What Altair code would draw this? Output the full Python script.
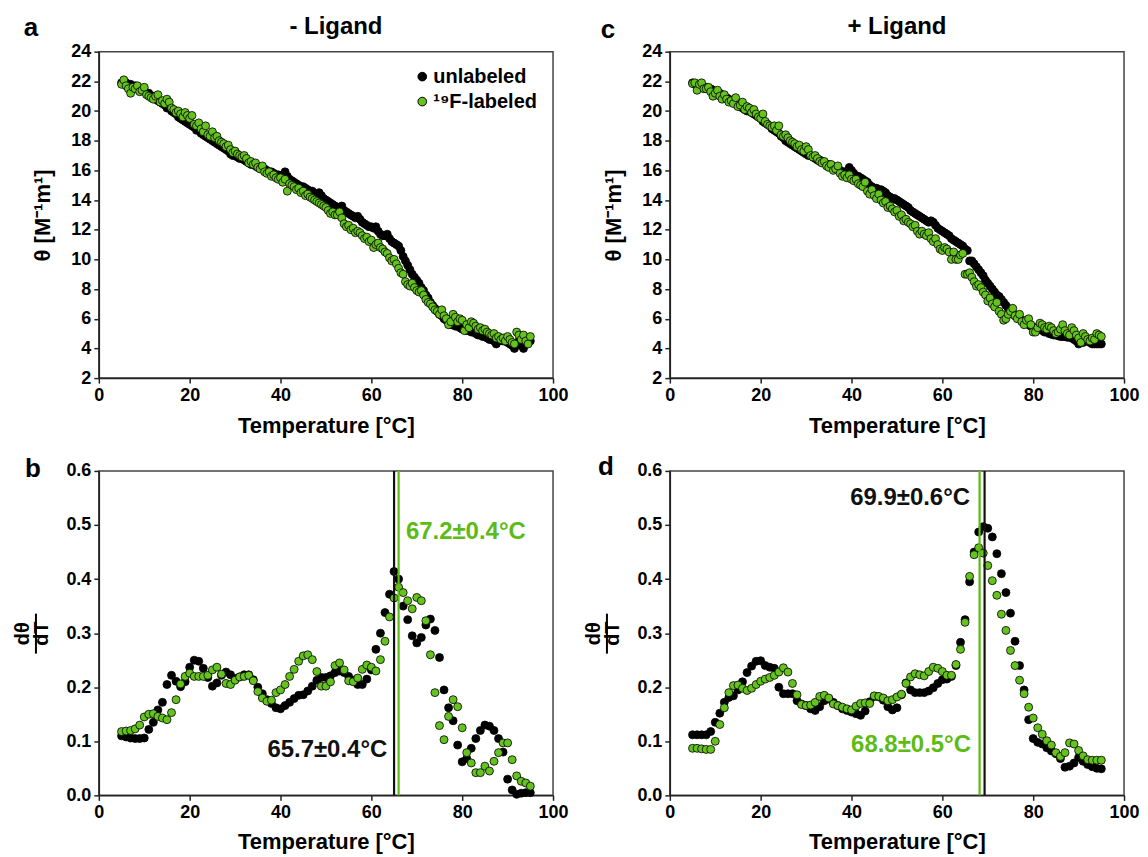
import altair as alt
import pandas as pd

FONT = "Liberation Sans"
BLACK = "#000000"
GREEN = "#66C21E"
LINE_GREEN = "#5DBB15"
SERIES = ["unlabeled", "¹⁹F-labeled"]

X_TICKS = [0, 20, 40, 60, 80, 100]
Y_TICKS_TOP = [2, 4, 6, 8, 10, 12, 14, 16, 18, 20, 22, 24]
Y_TICKS_BOT = [0.0, 0.1, 0.2, 0.3, 0.4, 0.5, 0.6]

# ---- temperatures ----
T_TOP = [
    5.0, 5.5, 6.0, 6.5, 7.0, 7.5, 8.0, 8.5, 9.0, 9.5,
    10.0, 10.5, 11.0, 11.5, 12.0, 12.5, 13.0, 13.5, 14.0, 14.5,
    15.0, 15.5, 16.0, 16.5, 17.0, 17.5, 18.0, 18.5, 19.0, 19.5,
    20.0, 20.5, 21.0, 21.5, 22.0, 22.5, 23.0, 23.5, 24.0, 24.5,
    25.0, 25.5, 26.0, 26.5, 27.0, 27.5, 28.0, 28.5, 29.0, 29.5,
    30.0, 30.5, 31.0, 31.5, 32.0, 32.5, 33.0, 33.5, 34.0, 34.5,
    35.0, 35.5, 36.0, 36.5, 37.0, 37.5, 38.0, 38.5, 39.0, 39.5,
    40.0, 40.5, 41.0, 41.5, 42.0, 42.5, 43.0, 43.5, 44.0, 44.5,
    45.0, 45.5, 46.0, 46.5, 47.0, 47.5, 48.0, 48.5, 49.0, 49.5,
    50.0, 50.5, 51.0, 51.5, 52.0, 52.5, 53.0, 53.5, 54.0, 54.5,
    55.0, 55.5, 56.0, 56.5, 57.0, 57.5, 58.0, 58.5, 59.0, 59.5,
    60.0, 60.5, 61.0, 61.5, 62.0, 62.5, 63.0, 63.5, 64.0, 64.5,
    65.0, 65.5, 66.0, 66.5, 67.0, 67.5, 68.0, 68.5, 69.0, 69.5,
    70.0, 70.5, 71.0, 71.5, 72.0, 72.5, 73.0, 73.5, 74.0, 74.5,
    75.0, 75.5, 76.0, 76.5, 77.0, 77.5, 78.0, 78.5, 79.0, 79.5,
    80.0, 80.5, 81.0, 81.5, 82.0, 82.5, 83.0, 83.5, 84.0, 84.5,
    85.0, 85.5, 86.0, 86.5, 87.0, 87.5, 88.0, 88.5, 89.0, 89.5,
    90.0, 90.5, 91.0, 91.5, 92.0, 92.5, 93.0, 93.5, 94.0, 94.5,
    95.0,
]

T_BOT = [
    5, 6, 7, 8, 9, 10, 11, 12, 13, 14,
    15, 16, 17, 18, 19, 20, 21, 22, 23, 24,
    25, 26, 27, 28, 29, 30, 31, 32, 33, 34,
    35, 36, 37, 38, 39, 40, 41, 42, 43, 44,
    45, 46, 47, 48, 49, 50, 51, 52, 53, 54,
    55, 56, 57, 58, 59, 60, 61, 62, 63, 64,
    65, 66, 67, 68, 69, 70, 71, 72, 73, 74,
    75, 76, 77, 78, 79, 80, 81, 82, 83, 84,
    85, 86, 87, 88, 89, 90, 91, 92, 93, 94,
    95,
]

# ---- panel a: - Ligand, CD signal ----
A_UNLAB = [
    21.9, 21.8, 21.9, 21.7, 21.8, 21.6, 21.7, 21.5, 21.5, 21.4,
    21.4, 21.2, 21.2, 21.0, 21.0, 20.8, 20.7, 20.6, 20.5, 20.4,
    20.2, 20.2, 20.0, 19.9, 19.8, 19.6, 19.5, 19.4, 19.3, 19.2,
    19.1, 19.0, 18.9, 18.7, 18.7, 18.5, 18.4, 18.3, 18.2, 18.1,
    18.0, 17.9, 17.8, 17.7, 17.6, 17.5, 17.4, 17.3, 17.1, 17.0,
    17.0, 16.9, 16.8, 16.8, 16.7, 16.6, 16.5, 16.4, 16.4, 16.3,
    16.2, 16.2, 16.1, 16.1, 16.0, 15.9, 15.9, 15.8, 15.7, 15.7,
    15.6, 15.7, 15.9, 15.6, 15.4, 15.3, 15.2, 15.1, 15.0, 14.9,
    14.9, 14.8, 14.7, 14.6, 14.6, 14.4, 14.4, 14.5, 14.3, 14.1,
    14.0, 13.9, 13.8, 13.7, 13.6, 13.5, 13.5, 13.6, 13.3, 13.2,
    13.1, 13.0, 12.9, 12.8, 12.9, 12.7, 12.5, 12.4, 12.3, 12.2,
    12.2, 12.1, 12.2, 11.9, 11.7, 11.6, 11.6, 11.7, 11.4, 11.2,
    11.1, 11.0, 10.9, 10.6, 10.2, 9.9, 9.6, 9.3, 9.0, 8.8,
    8.6, 8.4, 8.1, 7.9, 7.6, 7.4, 7.1, 6.9, 6.7, 6.5,
    6.3, 6.2, 6.0, 5.9, 5.8, 5.6, 5.6, 5.5, 5.5, 5.4,
    5.3, 5.3, 5.2, 5.2, 5.1, 5.1, 5.0, 4.9, 4.9, 4.8,
    4.8, 4.7, 4.6, 4.6, 4.5, 4.3, 4.5, 4.6, 4.5, 4.5,
    4.4, 4.3, 4.2, 4.0, 4.3, 4.5, 4.2, 4.0, 4.3, 4.4,
    4.5,
]
A_LAB = [
    21.8, 22.1, 21.7, 21.5, 21.2, 21.6, 21.5, 21.7, 21.3, 21.4,
    21.6, 21.1, 21.0, 20.9, 20.8, 21.0, 21.1, 20.6, 20.7, 20.5,
    20.8, 20.6, 20.2, 20.1, 19.9, 20.0, 19.8, 19.6, 19.9, 19.7,
    19.5, 19.7, 19.1, 19.0, 19.2, 18.8, 18.6, 19.0, 18.4, 18.3,
    18.6, 18.2, 18.3, 18.0, 17.9, 17.8, 17.6, 17.7, 17.4, 17.2,
    17.3, 17.1, 17.0, 16.9, 17.0, 16.8, 16.5, 16.6, 16.4, 16.5,
    16.2, 16.1, 16.3, 15.9, 15.8, 15.9, 15.6, 15.7, 15.5, 15.4,
    15.5, 15.2, 15.4, 14.6, 15.1, 15.0, 14.9, 14.7, 14.8, 14.5,
    14.6, 14.3, 14.4, 14.2, 14.1, 14.0, 13.9, 13.8, 13.7, 13.6,
    13.5, 13.3, 13.1, 13.2, 13.0, 13.0, 13.2, 12.8, 12.4, 12.2,
    12.3, 12.0, 12.1, 11.8, 11.9, 11.8, 11.6, 11.4, 11.5, 11.2,
    11.3, 10.8, 11.0, 11.1, 10.8, 10.7, 10.5, 10.4, 10.1, 9.9,
    10.0, 9.7, 9.4, 9.1, 9.0, 8.5, 8.3, 8.2, 8.4, 8.1,
    7.9, 7.8, 7.9, 7.6, 7.3, 7.1, 7.0, 6.8, 6.6, 6.5,
    6.3, 6.6, 6.2, 6.0, 5.6, 5.8, 6.3, 6.1, 5.8, 6.0,
    5.9, 5.2, 5.6, 5.4, 5.8, 5.7, 5.5, 5.3, 5.4, 5.2,
    5.3, 5.1, 5.0, 4.9, 5.0, 4.7, 4.8, 4.6, 4.7, 4.5,
    4.8, 4.6, 4.4, 4.3, 5.1, 4.9, 4.6, 4.9, 4.5, 4.3,
    4.8,
]

# ---- panel c: + Ligand, CD signal ----
C_UNLAB = [
    21.9, 21.8, 21.8, 21.7, 21.7, 21.6, 21.6, 21.5, 21.5, 21.4,
    21.3, 21.2, 21.2, 21.1, 21.0, 20.9, 20.8, 20.7, 20.6, 20.5,
    20.4, 20.3, 20.2, 20.1, 20.0, 20.0, 19.9, 19.8, 19.7, 19.6,
    19.5, 19.3, 19.2, 19.1, 19.0, 18.8, 18.7, 18.6, 18.5, 18.3,
    18.2, 18.0, 17.9, 17.8, 17.7, 17.6, 17.5, 17.4, 17.3, 17.2,
    17.1, 17.0, 17.0, 16.9, 16.8, 16.7, 16.7, 16.6, 16.5, 16.4,
    16.4, 16.3, 16.2, 16.2, 16.1, 16.0, 15.9, 15.9, 15.9, 16.2,
    16.0, 15.8, 15.6, 15.6, 15.5, 15.4, 15.3, 15.2, 15.0, 14.9,
    14.8, 14.8, 14.7, 14.7, 14.6, 14.5, 14.3, 14.2, 14.1, 14.1,
    14.0, 13.9, 13.8, 13.7, 13.6, 13.5, 13.3, 13.2, 13.1, 13.0,
    12.9, 12.8, 12.7, 12.6, 12.5, 12.6, 12.5, 12.3, 12.1, 12.0,
    11.9, 11.8, 11.7, 11.6, 11.4, 11.3, 11.2, 11.1, 11.0, 10.9,
    10.7, 10.6, 9.9, 9.9, 9.7, 9.5, 9.3, 9.1, 8.9, 8.6,
    8.4, 8.2, 8.0, 7.8, 7.6, 7.5, 7.3, 7.1, 6.9, 6.7,
    6.5, 6.4, 6.2, 6.1, 6.0, 5.9, 5.8, 5.7, 5.6, 5.5,
    5.4, 5.4, 5.3, 5.3, 5.2, 5.1, 5.1, 5.0, 4.95, 4.9,
    4.9, 4.85, 4.8, 4.8, 4.8, 4.75, 4.75, 4.7, 4.6, 4.5,
    4.3, 4.4, 4.4, 4.5, 4.5, 4.4, 4.3, 4.3, 4.3, 4.3,
    4.3,
]
C_LAB = [
    21.85, 21.9, 21.4, 21.8, 21.9, 21.5, 21.5, 21.6, 21.3, 21.0,
    21.2, 21.4, 21.0, 20.8, 21.1, 20.8, 20.6, 20.7, 20.5, 20.9,
    20.3, 20.4, 20.6, 20.1, 20.3, 20.2, 19.9, 20.1, 19.8, 19.6,
    19.5, 19.8, 19.3, 19.1, 19.0, 18.9, 19.0, 18.7, 19.0, 18.4,
    18.3, 18.4, 18.2, 18.0, 17.9, 17.8, 17.6, 17.7, 17.4, 17.3,
    17.6, 17.4, 17.0, 16.9, 17.0, 16.8, 16.6, 16.5, 16.6, 16.3,
    16.2, 16.4, 16.0, 16.1, 16.3, 15.8, 15.6, 15.7, 15.5, 15.7,
    15.4, 15.3, 15.4, 15.1, 15.0, 14.9, 15.2, 14.6, 14.4, 14.7,
    14.3, 14.1, 14.4, 14.0, 13.8, 13.9, 13.5, 13.6, 13.4, 13.2,
    13.3, 12.9, 13.0, 12.6, 12.7, 12.5, 12.4, 12.2, 12.3, 11.9,
    11.7, 11.9, 11.7, 11.6, 11.8, 11.4, 11.2, 11.4, 11.0, 10.7,
    10.6, 10.8, 10.7, 10.5, 10.0, 10.5, 10.0, 10.0, 10.3, 10.4,
    9.0, 9.0, 9.1, 8.8, 8.5, 8.2, 8.3, 8.1, 7.8, 7.6,
    7.2, 7.4, 7.0, 6.8, 7.1, 6.5, 6.3, 5.9, 6.0, 6.3,
    6.5, 6.7, 6.2, 6.0, 6.3, 5.8, 5.6, 5.9, 6.0, 5.6,
    5.1, 5.1, 5.4, 5.7, 5.6, 5.4, 5.3, 5.5, 5.4, 5.2,
    5.0, 5.1, 5.3, 5.6, 5.2, 5.0, 4.9, 5.4, 5.2, 4.9,
    4.7, 4.4, 5.0, 4.8, 4.6, 4.5, 4.7, 4.6, 5.0, 4.9,
    4.8,
]

# ---- panel b: - Ligand, derivative ----
B_UNLAB = [
    0.110, 0.108, 0.106, 0.105, 0.105, 0.106, 0.122, 0.135, 0.158, 0.172,
    0.205, 0.222, 0.211, 0.201, 0.210, 0.237, 0.250, 0.248, 0.235, 0.218,
    0.202, 0.208, 0.222, 0.228, 0.223, 0.216, 0.219, 0.223, 0.223, 0.214,
    0.200, 0.188, 0.177, 0.170, 0.162, 0.160, 0.166, 0.172, 0.179, 0.185,
    0.186, 0.193, 0.202, 0.213, 0.218, 0.218, 0.221, 0.227, 0.230, 0.227,
    0.220, 0.213, 0.205, 0.205, 0.215, 0.232, 0.270, 0.300, 0.338, 0.372,
    0.414, 0.400, 0.350, 0.325, 0.295, 0.282, 0.292, 0.315, 0.326, 0.305,
    0.255, 0.195, 0.162, 0.138, 0.093, 0.062, 0.068, 0.087, 0.105, 0.120,
    0.130, 0.128, 0.120, 0.105, 0.080, 0.030, 0.010, 0.002, 0.004, 0.005,
    0.005,
]
B_LAB = [
    0.118, 0.119, 0.120, 0.123, 0.130, 0.145, 0.150, 0.151, 0.146, 0.143,
    0.140, 0.153, 0.177, 0.206, 0.220, 0.226, 0.220, 0.220, 0.220, 0.222,
    0.232, 0.237, 0.224, 0.207, 0.205, 0.213, 0.219, 0.220, 0.222, 0.212,
    0.192, 0.180, 0.174, 0.176, 0.190, 0.195, 0.205, 0.220, 0.233, 0.248,
    0.258, 0.260, 0.251, 0.229, 0.202, 0.202, 0.210, 0.240, 0.245, 0.232,
    0.212, 0.210, 0.217, 0.233, 0.241, 0.237, 0.230, 0.251, 0.285, 0.330,
    0.365, 0.385, 0.375, 0.360, 0.345, 0.366, 0.360, 0.323, 0.260, 0.190,
    0.129, 0.103, 0.146, 0.177, 0.164, 0.125, 0.079, 0.060, 0.042, 0.042,
    0.054, 0.045, 0.063, 0.079, 0.097, 0.097, 0.066, 0.036, 0.026, 0.023,
    0.017,
]

# ---- panel d: + Ligand, derivative ----
D_UNLAB = [
    0.112, 0.112, 0.112, 0.112, 0.118, 0.135, 0.152, 0.172, 0.181, 0.184,
    0.195, 0.210, 0.227, 0.239, 0.248, 0.249, 0.240, 0.237, 0.235, 0.200,
    0.188, 0.188, 0.188, 0.175, 0.169, 0.166, 0.160, 0.157, 0.164, 0.175,
    0.178, 0.172, 0.166, 0.160, 0.157, 0.154, 0.151, 0.148, 0.156, 0.173,
    0.183, 0.182, 0.176, 0.164, 0.158, 0.162, 0.186, 0.208, 0.195, 0.190,
    0.190, 0.190, 0.193, 0.199, 0.207, 0.214, 0.215, 0.220, 0.240, 0.283,
    0.325, 0.395, 0.450, 0.487, 0.497, 0.494, 0.478, 0.447, 0.410, 0.375,
    0.337, 0.285, 0.240, 0.195, 0.140, 0.105, 0.098, 0.095, 0.088, 0.082,
    0.077, 0.068, 0.052, 0.054, 0.060, 0.070, 0.063, 0.057, 0.053, 0.050,
    0.049,
]
D_LAB = [
    0.087, 0.087, 0.086, 0.085, 0.085, 0.100, 0.131, 0.162, 0.190, 0.203,
    0.204, 0.198, 0.194, 0.198, 0.205, 0.211, 0.215, 0.218, 0.222, 0.228,
    0.236, 0.228, 0.207, 0.186, 0.168, 0.166, 0.167, 0.172, 0.183, 0.185,
    0.180, 0.169, 0.166, 0.163, 0.160, 0.158, 0.165, 0.170, 0.171, 0.170,
    0.184, 0.183, 0.180, 0.175, 0.177, 0.182, 0.187, 0.207, 0.219, 0.225,
    0.223, 0.221, 0.229, 0.237, 0.235, 0.229, 0.222, 0.222, 0.242, 0.270,
    0.320, 0.405, 0.445, 0.458, 0.448, 0.425, 0.397, 0.370, 0.335, 0.305,
    0.268, 0.240, 0.213, 0.188, 0.163, 0.143, 0.125, 0.113, 0.101, 0.093,
    0.079, 0.072, 0.079, 0.097, 0.095, 0.083, 0.073, 0.066, 0.065, 0.065,
    0.065,
]

# ---- Tm lines and labels ----
B_LINES = [65.0, 66.0]          # unlabeled, 19F-labeled
D_LINES = [69.3, 68.2]          # unlabeled, 19F-labeled
B_LABELS = ["65.7±0.4°C", "67.2±0.4°C"]
B_LABEL_T = [63.5, 67.6]
B_LABEL_V = [0.084, 0.487]
D_LABELS = ["69.9±0.6°C", "68.8±0.5°C"]
D_LABEL_T = [66.1, 66.3]
D_LABEL_V = [0.550, 0.094]

PANEL_TITLES = ["- Ligand", "+ Ligand"]
PANEL_LETTERS = ["a", "b", "c", "d"]

W = 455
H_TOP = 327
H_BOT = 325


def make_df(T, unlab, lab):
    rows = [{"T": t, "v": v, "series": SERIES[0]} for t, v in zip(T, unlab)]
    rows += [{"T": t, "v": v, "series": SERIES[1]} for t, v in zip(T, lab)]
    return pd.DataFrame(rows)


def color_enc(show_legend):
    if show_legend:
        leg = alt.Legend(
            title=None, orient="none", legendX=314, legendY=15,
            labelFont=FONT, labelFontSize=20, labelFontWeight="bold",
            labelColor="black", symbolType="circle", symbolSize=75,
            symbolStrokeColor="black", symbolStrokeWidth=1,
            labelOffset=1, rowPadding=5, padding=0,
        )
    else:
        leg = None
    return alt.Color(
        "series:N",
        scale=alt.Scale(domain=SERIES, range=[BLACK, GREEN]),
        legend=leg,
    )


def x_enc(pad):
    return alt.X(
        "T:Q",
        scale=alt.Scale(domain=[0, 100], nice=False),
        axis=alt.Axis(values=X_TICKS, format="d", title="Temperature [°C]",
                      titlePadding=pad, labelFlush=False),
    )


def text_layer(label, dx, dy, size, weight="bold"):
    return alt.Chart(pd.DataFrame({"label": [label]})).mark_text(
        font=FONT, fontSize=size, fontWeight=weight, color="black",
        align="center", baseline="middle",
    ).encode(text="label:N", x=alt.value(dx), y=alt.value(dy))


def top_panel(unlab, lab, title, title_dx, letter, letter_dx, letter_dy, legend):
    df = make_df(T_TOP, unlab, lab)
    pts = alt.Chart(df).mark_circle(
        size=64, opacity=1, stroke="black", strokeWidth=0.8
    ).encode(
        x=x_enc(12),
        y=alt.Y("v:Q", scale=alt.Scale(domain=[2, 24], nice=False),
                axis=alt.Axis(values=Y_TICKS_TOP, format="d",
                              title="θ [M⁻¹m¹]", titlePadding=16)),
        color=color_enc(legend),
    )
    return alt.layer(
        pts,
        text_layer(letter, letter_dx, letter_dy, 26),
        text_layer(title, W / 2 + title_dx, -25, 24),
    ).properties(width=W, height=H_TOP)


def bottom_panel(unlab, lab, lines, labels, label_t, label_v, aligns, letter,
                 letter_dx, letter_dy):
    df = make_df(T_BOT, unlab, lab)
    pts = alt.Chart(df).mark_circle(
        size=64, opacity=1, stroke="black", strokeWidth=0.8
    ).encode(
        x=x_enc(10),
        y=alt.Y("v:Q", scale=alt.Scale(domain=[0, 0.6], nice=False),
                axis=alt.Axis(values=Y_TICKS_BOT, format=".1f",
                              title=["dθ", "dT"], titlePadding=14,
                              titleFontSize=20, titleLineHeight=19)),
        color=color_enc(False),
    )
    layers = [pts]
    line_colors = ["#111111", LINE_GREEN]
    for t, c in zip(lines, line_colors):
        layers.append(
            alt.Chart(pd.DataFrame({"T": [t]})).mark_rule(
                color=c, strokeWidth=2.2
            ).encode(x="T:Q")
        )
    text_colors = ["#111111", LINE_GREEN]
    for txt, t, v, al, c in zip(labels, label_t, label_v, aligns, text_colors):
        layers.append(
            alt.Chart(pd.DataFrame({"T": [t], "v": [v], "label": [txt]})).mark_text(
                font=FONT, fontSize=24, fontWeight="bold", color=c, align=al,
                baseline="middle"
            ).encode(x="T:Q", y="v:Q", text="label:N")
        )
    # fraction bar of the dθ/dT axis title
    layers.append(
        alt.Chart(pd.DataFrame({"k": [0]})).mark_rule(
            color="black", strokeWidth=2
        ).encode(x=alt.value(-63), y=alt.value(143), y2=alt.value(183))
    )
    layers.append(text_layer(letter, letter_dx, letter_dy, 26))
    return alt.layer(*layers).properties(width=W, height=H_BOT)


pa = top_panel(A_UNLAB, A_LAB, PANEL_TITLES[0], 10, PANEL_LETTERS[0], -68, -24, True)
pc = top_panel(C_UNLAB, C_LAB, PANEL_TITLES[1], 0, PANEL_LETTERS[2], -62, -22, False)
pb = bottom_panel(B_UNLAB, B_LAB, B_LINES, B_LABELS, B_LABEL_T, B_LABEL_V,
                  ["right", "left"], PANEL_LETTERS[1], -66, -2)
pd_ = bottom_panel(D_UNLAB, D_LAB, D_LINES, D_LABELS, D_LABEL_T, D_LABEL_V,
                   ["right", "right"], PANEL_LETTERS[3], -64, -4)

chart = alt.concat(
    pa, pc, pb, pd_, columns=2,
    spacing={"row": 93, "column": 117}, bounds="flush",
).resolve_scale(
    x="independent", y="independent", color="independent"
).resolve_legend(
    color="independent"
).properties(
    padding={"left": 4, "top": 5, "right": 0, "bottom": 2}
).configure_view(
    stroke="#444444", strokeWidth=1.5
).configure_axis(
    labelFont=FONT, labelFontSize=18, labelFontWeight="bold", labelColor="black",
    titleFont=FONT, titleFontSize=22, titleFontWeight="bold", titleColor="black",
    tickSize=5, tickWidth=1.5, tickColor="#222222",
    domainWidth=1.5, domainColor="#222222", labelPadding=3, grid=False,
)

chart.save("out.html", embed_options={"renderer": "svg", "actions": False})
